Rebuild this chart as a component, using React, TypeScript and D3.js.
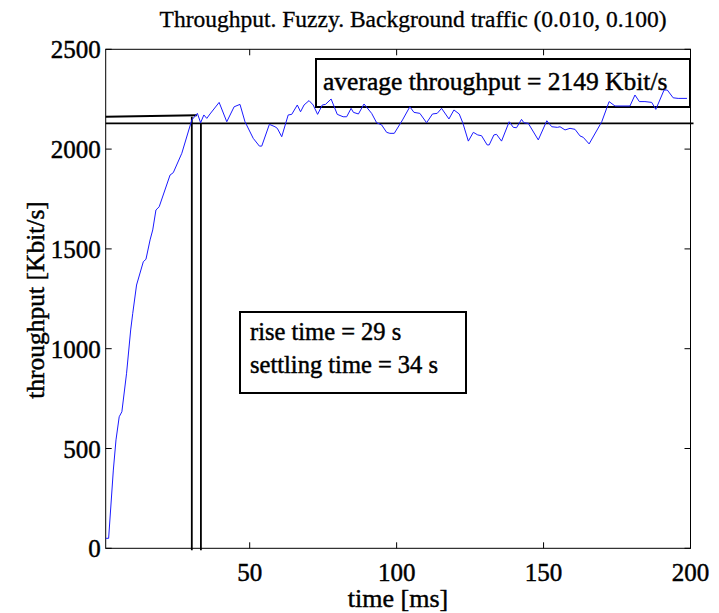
import * as d3 from "d3";

// throughput samples (time, Kbit/s)
const times = [
  1, 2, 3.6, 4.5, 5.6, 6.5, 8.1, 9.5, 10.2, 11.5, 13.8, 14.7, 16.1, 17, 18.1, 19.2, 22.9, 24, 26.9, 30.3,
  32.2, 33.3, 34.4, 35.4, 36.5, 39.6, 42.2, 44.7, 46.7, 48.4, 51.2, 53.3, 54.1, 56.7, 58.6, 59.4, 60.9,
  63.1, 64.3, 66.2, 67.3, 68.5, 70.2, 71.6, 73.1, 74.7, 75.8, 77.7, 79.8, 81.8, 83, 84.5, 85.3, 87, 88.9,
  91.5, 93.2, 94.9, 96.6, 97.7, 99.2, 102, 104.5, 105.9, 107.9, 110.2, 112.2, 113.8, 115.3, 117.8, 119.5,
  121.3, 122.5, 124.4, 126.1, 127.6, 128.9, 130.8, 131.5, 133.1, 134, 135.7, 138.3, 139.7, 140.8, 142.5,
  143.3, 144.8, 148.2, 151.1, 152.8, 154.7, 155.6, 157.3, 159, 160.7, 162.4, 163.5, 165.5, 169.8, 172.3,
  174.3, 176, 179.4, 181.1, 182.6, 184.5, 186.8, 188.2, 191, 192.1, 194.1, 195.8, 198.8,
];
const throughput = [
  50, 50, 392, 543, 659, 684, 877, 1094, 1177, 1319, 1436, 1448, 1545, 1595, 1695, 1711, 1870, 1882, 1979, 2146,
  2179, 2132, 2171, 2154, 2176, 2234, 2137, 2212, 2224, 2137, 2054, 2015, 2015, 2124, 2112, 2104, 2062,
  2171, 2174, 2221, 2187, 2221, 2243, 2221, 2174, 2221, 2224, 2251, 2174, 2162, 2162, 2204, 2184, 2176, 2226,
  2179, 2132, 2121, 2084, 2079, 2079, 2146, 2212, 2184, 2179, 2132, 2176, 2179, 2204, 2151, 2196,
  2176, 2132, 2040, 2084, 2071, 2067, 2021, 2021, 2071, 2074, 2040, 2137, 2109, 2107, 2149,
  2132, 2129, 2046, 2142, 2112, 2109, 2112, 2096, 2104, 2099, 2066, 2059, 2026, 2137, 2238,
  2216, 2216, 2216, 2271, 2238, 2238, 2234, 2199, 2296, 2296, 2257, 2254, 2254,
];

const xTicks = [50, 100, 150, 200];
const yTicks = [0, 500, 1000, 1500, 2000, 2500];

const avgLevel = 2129;
const riseLevel = [2162, 2170];
const riseTime = 30.3;
const settleTime = 33.4;

const title = "Throughput. Fuzzy. Background traffic (0.010, 0.100)";
const avgText = "average throughput = 2149 Kbit/s";
const riseText = ["rise time = 29 s", "settling time = 34 s"];

export default function App() {
  const width = 719, height = 613;
  const left = 105.7, right = 690.5, top = 49.3, bottom = 548.3;
  const x = d3.scaleLinear([1, 200], [left, right]);
  const y = d3.scaleLinear([0, 2500], [bottom, top]);
  const font = "'Liberation Serif', 'Times New Roman', serif";
  const tick = 6;
  // glyphs in the original are heavy, thicken them a bit
  const heavy = { stroke: "black", strokeWidth: 0.45 };

  const line = d3.line<number>()
    .x((d, i) => x(times[i]))
    .y(d => y(d));

  return (
    <svg width={width} height={height} style={{ position: "absolute", left: 0, top: 0, background: "white" }}
      fontFamily={font}>
      <rect x={0} y={0} width={width} height={height} fill="white" />
      <text x={(left + right) / 2 + 15} y={27} fontSize={23.5} textAnchor="middle" {...heavy} strokeWidth={0.3}>{title}</text>

      {/* reference lines */}
      <line x1={x(1)} x2={right + 3} y1={y(avgLevel)} y2={y(avgLevel)} stroke="black" strokeWidth={1.8} />
      <line x1={x(1)} x2={x(32)} y1={y(riseLevel[0])} y2={y(riseLevel[1])} stroke="black" strokeWidth={2} />
      <line x1={x(riseTime)} x2={x(riseTime)} y1={y(riseLevel[0])} y2={bottom + 2} stroke="black" strokeWidth={1.8} />
      <line x1={x(settleTime)} x2={x(settleTime)} y1={y(avgLevel)} y2={bottom + 2} stroke="black" strokeWidth={1.8} />

      {/* axes box */}
      <rect x={left} y={top} width={right - left} height={bottom - top} fill="none" stroke="black" strokeWidth={1} />
      {xTicks.map(t => (
        <g key={"x" + t}>
          <line x1={x(t)} x2={x(t)} y1={bottom} y2={bottom - tick} stroke="black" />
          <line x1={x(t)} x2={x(t)} y1={top} y2={top + tick} stroke="black" />
          <text x={x(t)} y={bottom + 33} fontSize={25} textAnchor="middle" {...heavy}>{t}</text>
        </g>
      ))}
      {yTicks.map(t => (
        <g key={"y" + t}>
          <line x1={left} x2={left + tick} y1={y(t)} y2={y(t)} stroke="black" />
          <line x1={right} x2={right - tick} y1={y(t)} y2={y(t)} stroke="black" />
          <text x={left - 5} y={y(t) + 9} fontSize={25} textAnchor="end" {...heavy}>{t}</text>
        </g>
      ))}
      <text x={398} y={607} fontSize={26} textAnchor="middle" {...heavy}>time [ms]</text>
      <text transform={`translate(44, 300) rotate(-90)`} fontSize={25.5} textAnchor="middle" {...heavy}>
        throughput [Kbit/s]
      </text>

      {/* annotation boxes */}
      <rect x={316} y={59} width={374} height={48} fill="none" stroke="black" strokeWidth={2} />
      <text x={323} y={90} fontSize={25.5} {...heavy}>{avgText}</text>
      <rect x={240} y={312} width={226} height={81} fill="white" stroke="black" strokeWidth={2} />
      <text x={250} y={340} fontSize={24.5} {...heavy}>{riseText[0]}</text>
      <text x={250} y={373} fontSize={24.5} {...heavy}>{riseText[1]}</text>

      {/* data */}
      <path d={line(throughput) ?? ""} fill="none" stroke="#1a1aff" strokeWidth={1} />
    </svg>
  );
}
